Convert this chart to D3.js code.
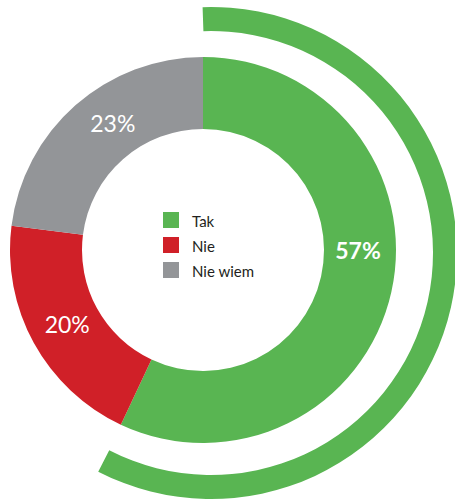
<!DOCTYPE html>
<html>
<head>
<meta charset="utf-8">
<script src="https://cdn.jsdelivr.net/npm/d3@7"></script>
<style>
  html, body { margin: 0; padding: 0; background: #fff; }
  svg { display: block; }
  text { font-family: Lato, "Open Sans", sans-serif; }
</style>
</head>
<body>
<svg id="chart" width="455" height="503"></svg>
<script>
// Survey answers and their shares (percent)
const categories = ["Tak", "Nie", "Nie wiem"];
const values = [57, 20, 23];
const valueLabels = ["57%", "20%", "23%"];
const colors = ["#59b552", "#d02028", "#939598"];

const svg = d3.select("#chart");
const W = 455, H = 503;

// Donut geometry
const cx = 203, cy = 250;
const rOuter = 193, rInner = 121;

const pie = d3.pie().sort(null).value(d => d.value);
const arcs = pie(categories.map((c, i) => ({ name: c, value: values[i], label: valueLabels[i], color: colors[i] })));

const arc = d3.arc().innerRadius(rInner).outerRadius(rOuter);

const g = svg.append("g").attr("transform", `translate(${cx},${cy})`);

g.selectAll("path.slice")
  .data(arcs)
  .join("path")
  .attr("class", "slice")
  .attr("d", arc)
  .attr("fill", d => d.data.color);

// Where along each slice its percentage sits (fraction of slice sweep)
const labelAlong = { "Tak": 0.44, "Nie": 0.5, "Nie wiem": 0.57 };
const labelR = 155;
g.selectAll("text.pct")
  .data(arcs)
  .join("text")
  .attr("class", "pct")
  .attr("x", d => {
    const a = d.startAngle + (d.endAngle - d.startAngle) * labelAlong[d.data.name];
    return labelR * Math.sin(a);
  })
  .attr("y", d => {
    const a = d.startAngle + (d.endAngle - d.startAngle) * labelAlong[d.data.name];
    return -labelR * Math.cos(a);
  })
  .attr("dy", "0.36em")
  .attr("text-anchor", "middle")
  .attr("fill", "#fff")
  .attr("font-size", 23)
  .attr("font-weight", d => d.data.name === "Tak" ? 700 : 400)
  .text(d => d.data.label);

// Highlight ring for the leading answer: a slightly offset circle,
// spanning the same angular sector as seen from the donut centre.
const ringCx = cx + 8, ringCy = cy + 3;
const ringIn = 222, ringOut = 246, ringMid = (ringIn + ringOut) / 2;
const lead = arcs[0];

function ringAngle(a) {
  // intersect the ray from the donut centre at angle a with the ring's mid circle
  const ux = Math.sin(a), uy = -Math.cos(a);
  const dx = cx - ringCx, dy = cy - ringCy;
  const b = ux * dx + uy * dy;
  const t = -b + Math.sqrt(b * b - (dx * dx + dy * dy) + ringMid * ringMid);
  const px = cx + t * ux - ringCx, py = cy + t * uy - ringCy;
  return Math.atan2(px, -py);
}
let a0 = ringAngle(lead.startAngle);
let a1 = ringAngle(lead.endAngle);
if (a1 < a0) a1 += 2 * Math.PI;

svg.append("path")
  .attr("transform", `translate(${ringCx},${ringCy})`)
  .attr("d", d3.arc()({ innerRadius: ringIn, outerRadius: ringOut, startAngle: a0, endAngle: a1 }))
  .attr("fill", lead.data.color);

// Legend in the donut hole
const legend = svg.append("g").attr("transform", "translate(163,212)");
const rows = legend.selectAll("g.row")
  .data(arcs)
  .join("g")
  .attr("class", "row")
  .attr("transform", (d, i) => `translate(0,${i * 25})`);
rows.append("rect")
  .attr("width", 16).attr("height", 16)
  .attr("fill", d => d.data.color);
rows.append("text")
  .attr("x", 29).attr("y", 14.5)
  .attr("font-size", 15)
  .attr("fill", "#231f20")
  .text(d => d.data.name);
</script>
</body>
</html>
